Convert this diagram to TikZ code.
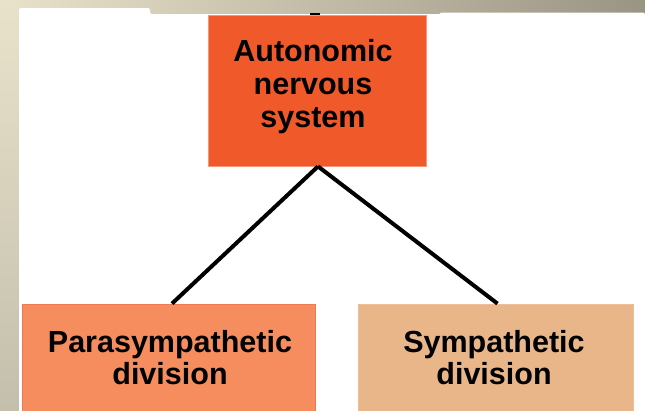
\documentclass[tikz,border=0pt]{standalone}
\usepackage{fontspec}
\setmainfont{Liberation Sans}
\definecolor{bgLight}{HTML}{E9E2CB}
\definecolor{bgDark}{HTML}{9A9583}
\definecolor{bgLow}{HTML}{C3BFAC}
\definecolor{ansFill}{HTML}{F0592A}
\definecolor{ansEdge}{HTML}{F6967A}
\definecolor{paraFill}{HTML}{F58D5F}
\definecolor{paraEdge}{HTML}{EE7A55}
\definecolor{symFill}{HTML}{E9B68A}
\definecolor{symEdge}{HTML}{EDBE98}
\tikzset{
  box/.style={rectangle, inner sep=0pt, line width=0.8pt},
  lbl/.style={align=center, inner sep=0pt, text=black,
    font=\fontsize{30.5}{33}\selectfont\bfseries},
  lbllow/.style={lbl, font=\fontsize{30.5}{32}\selectfont\bfseries},
  branch/.style={line width=4pt, black}
}
\begin{document}
\begin{tikzpicture}[x=1pt, y=-1pt]
\useasboundingbox (0,0) rectangle (645,410);
% slide backdrop
\shade[left color=bgLight, right color=bgDark] (0,0) rectangle (645,410);
\shade[top color=bgLight, bottom color=bgLow] (0,0) rectangle (19,410);
% white panel
\fill[white, rounded corners=2pt] (19,412) -- (19,8) -- (150,8) -- (150,14)
  -- (441,14) -- (441,12.5) -- (645,12.5) -- (645,412) -- cycle;
\fill[black] (310,13.3) rectangle (320,15.5);
% boxes
\node[box, fill=ansFill, draw=ansEdge, minimum width=218pt, minimum height=151pt]
  (ans) at (317,90.5) {};
\node[box, fill=paraFill, draw=paraEdge, minimum width=293pt, minimum height=110pt]
  (para) at (168.5,359) {};
\node[box, fill=symFill, draw=symEdge, minimum width=275pt, minimum height=110pt]
  (sym) at (495.5,359) {};
% labels
\node[lbl] (ansText) at ([xshift=-4pt, yshift=3.5pt]ans.center) {Autonomic\\nervous\\system};
\node[lbllow] (paraText) at ([xshift=1.5pt, yshift=1pt]para.center) {Parasympathetic\\division};
\node[lbllow] (symText) at ([xshift=-1.5pt, yshift=1pt]sym.center) {Sympathetic\\division};
% branches
\coordinate (fork) at ([xshift=1pt]ans.south);
\draw[branch] (fork) -- ([xshift=3.5pt]para.north);
\draw[branch] (fork) -- ([xshift=2pt]sym.north);
\end{tikzpicture}
\end{document}
